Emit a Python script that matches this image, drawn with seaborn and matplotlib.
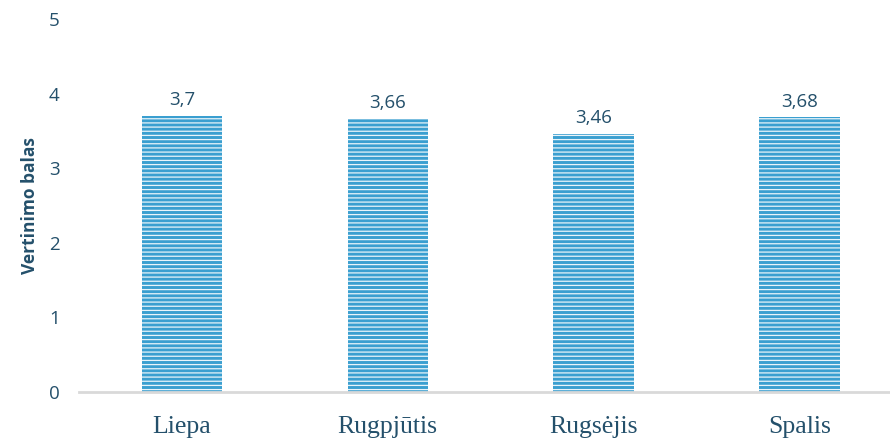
import matplotlib
matplotlib.use("Agg")
import matplotlib.pyplot as plt
import seaborn as sns
import pandas as pd

# chart data
months = ["Liepa", "Rugpjūtis", "Rugsėjis", "Spalis"]
scores = [3.7, 3.66, 3.46, 3.68]
score_labels = ["3,7", "3,66", "3,46", "3,68"]

sns.set_style("white")
plt.rcParams['font.family'] = ['Open Sans', 'DejaVu Sans']
plt.rcParams['hatch.linewidth'] = 0.9

text_col = "#24506b"
bar_col = "#3a9fd0"

df = pd.DataFrame({"Month": months, "Score": scores})

fig = plt.figure(figsize=(8.9, 4.41), dpi=100)
ax = fig.add_axes([79 / 890, 49 / 441, 811 / 890, 373 / 441])

sns.barplot(data=df, x="Month", y="Score", color=bar_col, width=0.39,
            saturation=1, ax=ax)

# horizontal white stripes on the bars
for p in ax.patches:
    p.set_hatch("----")
    p.set_edgecolor("#e8f4fa")
    p.set_linewidth(0)

for i, (v, lab) in enumerate(zip(scores, score_labels)):
    ax.annotate(lab, (i, v), xytext=(0, 5), textcoords="offset points",
                ha="center", va="bottom", fontsize=13.5, color=text_col)

ax.set_ylim(0, 5)
ax.set_xlim(-0.5, 3.44)
ax.set_yticks(range(6))
ax.tick_params(axis="y", labelsize=13.5, labelcolor=text_col, length=0, pad=14)
ax.tick_params(axis="x", length=0, pad=17)
for t in ax.get_xticklabels():
    t.set_family(["Liberation Serif", "DejaVu Serif"])
    t.set_fontsize(18.5)
    t.set_color(text_col)

ax.set_xlabel("")
ax.set_ylabel("Vertinimo balas", fontsize=12.5, fontweight="bold", color=text_col, labelpad=7)

for s in ["top", "right", "left"]:
    ax.spines[s].set_visible(False)
ax.spines["bottom"].set_color("#d9d9d9")
ax.spines["bottom"].set_linewidth(2)

fig.savefig("out.png", dpi=100)
